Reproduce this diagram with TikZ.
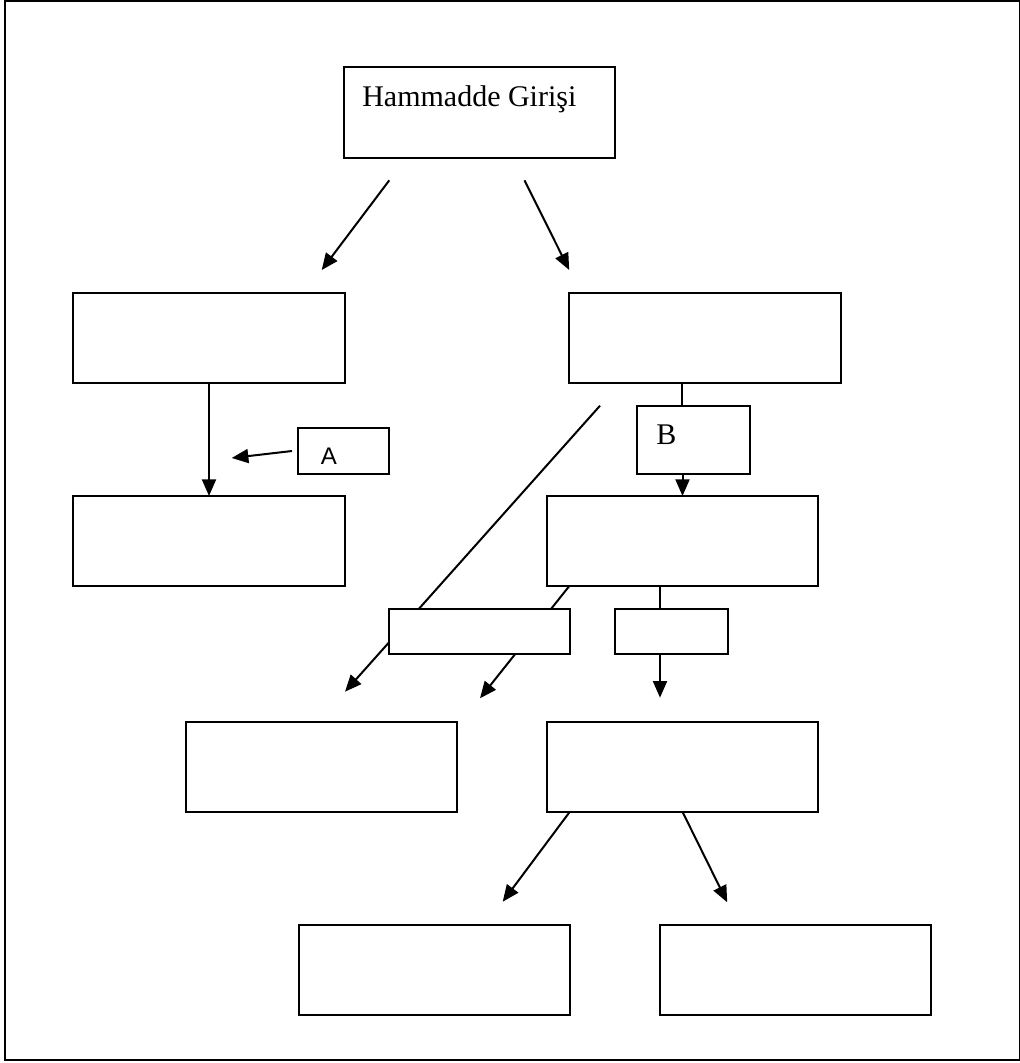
\documentclass[tikz,border=0pt]{standalone}
\usepackage{fontspec}
\setmainfont{Liberation Serif}
\newfontfamily\arialfont{Liberation Sans}
\usetikzlibrary{arrows.meta,backgrounds}
\tikzset{
  box/.style 2 args={draw, fill=white, line width=1.5pt, inner sep=0pt, outer sep=0pt,
    minimum width=#1*0.75pt, minimum height=#2*0.75pt},
  conn/.style={line width=1.5pt},
  arr/.style={line width=1.5pt, -{Triangle[length=12.5pt,width=10.5pt]}},
  serif/.style={font=\fontsize{22.5pt}{26pt}\selectfont, inner sep=0pt, anchor=base west},
  sans/.style={font=\arialfont\fontsize{18pt}{21pt}\selectfont, inner sep=0pt, anchor=base west}
}
\begin{document}
\begin{tikzpicture}[x=0.75pt,y=-0.75pt]
\useasboundingbox (0,0) rectangle (1020,1063);
\draw[line width=1.8pt] (5,1) rectangle (1020,1060);

% boxes
\node[box={271}{91}] (top) at (479.5,112.5) {};
\node[box={272}{90}] (L1) at (209,338) {};
\node[box={272}{90}] (R1) at (705,338) {};
\node[box={91}{46}] (A) at (343.5,451) {};
\node[box={113}{68}] (B) at (693.5,440) {};
\node[box={272}{90}] (L2) at (209,541) {};
\node[box={271}{90}] (M) at (682.5,541) {};
\node[box={181}{45}] (S1) at (479.5,631.5) {};
\node[box={113}{45}] (S2) at (671.5,631.5) {};
\node[box={271}{90}] (BL) at (321.5,767) {};
\node[box={271}{90}] (BM) at (682.5,767) {};
\node[box={271}{90}] (BB1) at (434,970) {};
\node[box={271}{90}] (BB2) at (795,970) {};

% labels
\node[serif] (tTop) at (362,106) {Hammadde Girişi};
\node[sans] (tA) at (320.5,464) {A};
\node[serif] (tB) at (656,444) {B};

% free ends of connectors
\coordinate (t1s) at (389.3,180.3);
\coordinate (t1e) at (321.7,270);
\coordinate (t2s) at (524.5,180.3);
\coordinate (t2e) at (569.2,270);
\coordinate (as) at (292,451);
\coordinate (ae) at (231.7,458);
\coordinate (rb) at (682.3,383);
\coordinate (ls) at (600,405.7);
\coordinate (le) at (345,691.7);
\coordinate (ms) at (569.3,586);
\coordinate (me) at (480,698.3);
\coordinate (vx) at (660,586);
\coordinate (ve) at (660,697.7);
\coordinate (b1s) at (569.6,812);
\coordinate (b1e) at (502.7,901.7);
\coordinate (b2s) at (682.6,812);
\coordinate (b2e) at (727.2,902.3);

\begin{scope}[on background layer]
\draw[arr] (t1s) -- (t1e);
\draw[arr] (t2s) -- (t2e);
\draw[arr] (L1.south) -- (L2.north);
\draw[arr] (as) -- (ae);
\draw[conn] (rb) -- (rb |- B.north);
\draw[arr] (B.south -| M.north) -- (M.north);
\draw[arr] (ls) -- (le);
\draw[arr] (ms) -- (me);
\draw[conn] (vx) -- (vx |- S2.north);
\draw[arr] (vx |- S2.south) -- (ve);
\draw[arr] (b1s) -- (b1e);
\draw[arr] (b2s) -- (b2e);
\end{scope}
\end{tikzpicture}
\end{document}
